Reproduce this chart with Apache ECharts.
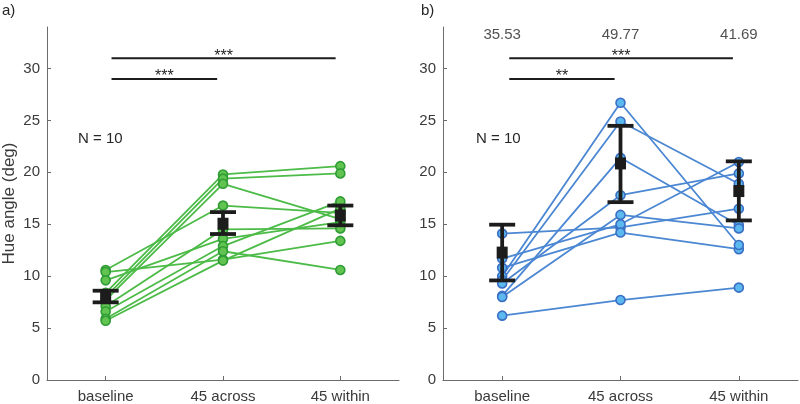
<!DOCTYPE html>
<html>
<head>
<meta charset="utf-8">
<script src="https://cdn.jsdelivr.net/npm/echarts@6/dist/echarts.min.js"></script>
<style>
  html, body { margin: 0; padding: 0; background: #fff; }
  #main { width: 800px; height: 404px; }
</style>
</head>
<body>
<div id="main"></div>
<script>
// categories and ticks
var cats = ['baseline', '45 across', '45 within'];
var yTicks = [0, 5, 10, 15, 20, 25, 30];

// panel a) - one value per subject, same order in each array
var aBaseline = [10.6, 10.4, 9.6, 8.4, 8.0, 7.7, 7.1, 6.6, 5.9, 5.7];
var aAcross   = [16.8, 11.6, 13.6, 19.8, 19.4, 18.9, 14.5, 12.9, 12.4, 11.5];
var aWithin   = [16.1, 13.4, 15.2, 20.6, 19.9, 15.5, 14.6, 17.2, 10.6, 16.5];
var aMean  = [8.05, 15.05, 15.85];
var aErrLo = [7.48, 14.06, 14.9];
var aErrHi = [8.6, 16.17, 16.8];

// panel b) - 9 subjects on the plot, 10th is off scale (printed on top)
var bBaseline = [6.2, 14.1, 11.7, 10.8, 10.0, 9.6, 9.3, 8.1, 8.0];
var bAcross   = [7.7, 14.7, 15.0, 14.2, 26.7, 24.9, 17.8, 21.4, 15.9];
var bWithin   = [8.9, 16.5, 21.0, 12.6, 13.0, 18.9, 19.9, 14.9, 14.6];
var bOutlier  = [35.53, 49.77, 41.69];
var bMean  = [12.27, 20.86, 18.2];
var bErrLo = [9.59, 17.13, 15.37];
var bErrHi = [14.96, 24.48, 21.06];

// significance bars: [from, to, y, stars]
var aSig = [[1.05, 1.95, 29, '***'], [1.05, 2.96, 31, '***']];
var bSig = [[1.06, 1.95, 29, '**'], [1.06, 2.95, 31, '***']];

var FONT = 'Liberation Sans, Arial, Helvetica, sans-serif';
var TXT = '#262626';

var myChart = echarts.init(document.getElementById('main'), null, {renderer: 'canvas'});

function xAx(idx) {
  return {
    type: 'value', gridIndex: idx, min: 0.5, max: 3.5,
    axisLine: {show: true, lineStyle: {color: '#6b6b6b', width: 1}},
    axisTick: {show: true, inside: true, length: 4, customValues: [1, 2, 3], lineStyle: {color: '#6b6b6b'}},
    axisLabel: {
      customValues: [1, 2, 3], color: '#3a3a3a', fontSize: 15, fontFamily: FONT, margin: 9,
      formatter: function (v) { return cats[Math.round(v) - 1]; }
    },
    splitLine: {show: false}
  };
}
function yAx(idx, withName) {
  var ax = {
    type: 'value', gridIndex: idx, min: 0, max: 34,
    axisLine: {show: true, lineStyle: {color: '#6b6b6b', width: 1}},
    axisTick: {show: true, inside: true, length: 4, customValues: yTicks, lineStyle: {color: '#6b6b6b'}},
    axisLabel: {customValues: yTicks, color: '#3a3a3a', fontSize: 15, fontFamily: FONT, margin: 7},
    splitLine: {show: false}
  };
  if (withName) {
    ax.name = 'Hue angle (deg)';
    ax.nameLocation = 'middle';
    ax.nameGap = 29;
    ax.nameTextStyle = {color: '#3a3a3a', fontSize: 17, fontFamily: FONT};
  }
  return ax;
}

function subjectLines(base, across, within, idx, lineCol, fill, border) {
  var out = [];
  for (var i = 0; i < base.length; i++) {
    out.push({
      type: 'line', xAxisIndex: idx, yAxisIndex: idx,
      data: [[1, base[i]], [2, across[i]], [3, within[i]]],
      symbol: 'circle', symbolSize: 9, showSymbol: true,
      lineStyle: {color: lineCol, width: 1.8},
      itemStyle: {color: fill, borderColor: border, borderWidth: 1.6},
      z: 2, silent: true
    });
  }
  return out;
}

function meanSeries(mean, lo, hi, idx) {
  var d = [];
  for (var i = 0; i < mean.length; i++) d.push([i + 1, mean[i], lo[i], hi[i]]);
  return {
    type: 'custom', xAxisIndex: idx, yAxisIndex: idx, z: 5, data: d,
    renderItem: function (params, api) {
      var top = api.coord([api.value(0), api.value(3)]);
      var bot = api.coord([api.value(0), api.value(2)]);
      var mid = api.coord([api.value(0), api.value(1)]);
      var st = {stroke: '#1c1c1c', lineWidth: 3.8};
      return {
        type: 'group', children: [
          {type: 'line', shape: {x1: top[0], y1: top[1], x2: bot[0], y2: bot[1]}, style: st},
          {type: 'line', shape: {x1: top[0] - 13, y1: top[1], x2: top[0] + 13, y2: top[1]}, style: st},
          {type: 'line', shape: {x1: bot[0] - 13, y1: bot[1], x2: bot[0] + 13, y2: bot[1]}, style: st},
          {type: 'rect', shape: {x: mid[0] - 5.5, y: mid[1] - 6, width: 11, height: 12}, style: {fill: '#1c1c1c'}}
        ]
      };
    }
  };
}

function sigSeries(sig, idx) {
  return {
    type: 'custom', xAxisIndex: idx, yAxisIndex: idx, z: 3, data: sig,
    renderItem: function (params, api) {
      var p1 = api.coord([api.value(0), api.value(2)]);
      var p2 = api.coord([api.value(1), api.value(2)]);
      return {
        type: 'group', children: [
          {type: 'line', shape: {x1: p1[0], y1: p1[1], x2: p2[0], y2: p2[1]}, style: {stroke: '#1c1c1c', lineWidth: 2}},
          {type: 'text', style: {
            text: sig[params.dataIndex][3], x: (p1[0] + p2[0]) / 2, y: p1[1] - 2,
            align: 'center', verticalAlign: 'middle', fill: TXT, fontSize: 16, fontFamily: FONT
          }}
        ]
      };
    }
  };
}

var series = [];
series = series.concat(subjectLines(aBaseline, aAcross, aWithin, 0, '#4cbb47', '#62c450', '#2f9c36'));
series = series.concat(subjectLines(bBaseline, bAcross, bWithin, 1, '#4b87d2', '#5cb9ef', '#3a6fc4'));
series.push(meanSeries(aMean, aErrLo, aErrHi, 0));
series.push(meanSeries(bMean, bErrLo, bErrHi, 1));
series.push(sigSeries(aSig, 0));
series.push(sigSeries(bSig, 1));
// off-scale values of the 10th subject in b), written above the plot
series.push({
  type: 'scatter', xAxisIndex: 1, yAxisIndex: 1, symbolSize: 0, silent: true,
  data: bOutlier.map(function (v, i) { return [i + 1, 33.2, v]; }),
  label: {
    show: true, position: 'inside', color: TXT, fontSize: 15, fontFamily: FONT,
    formatter: function (p) { return p.value[2].toFixed(2); }
  }
});

var option = {
  animation: false,
  backgroundColor: '#fff',
  grid: [
    {left: 45, top: 27, width: 354, height: 355},
    {left: 443, top: 27, width: 355, height: 355}
  ],
  xAxis: [xAx(0), xAx(1)],
  yAxis: [yAx(0, true), yAx(1, false)],
  graphic: [
    {type: 'text', left: 2, top: 3, style: {text: 'a)', fill: TXT, fontSize: 15, fontFamily: FONT}},
    {type: 'text', left: 421, top: 3, style: {text: 'b)', fill: TXT, fontSize: 15, fontFamily: FONT}},
    {type: 'text', left: 78, top: 131, style: {text: 'N = 10', fill: TXT, fontSize: 15, fontFamily: FONT}},
    {type: 'text', left: 476, top: 131, style: {text: 'N = 10', fill: TXT, fontSize: 15, fontFamily: FONT}}
  ],
  series: series
};
myChart.setOption(option);
</script>
</body>
</html>
